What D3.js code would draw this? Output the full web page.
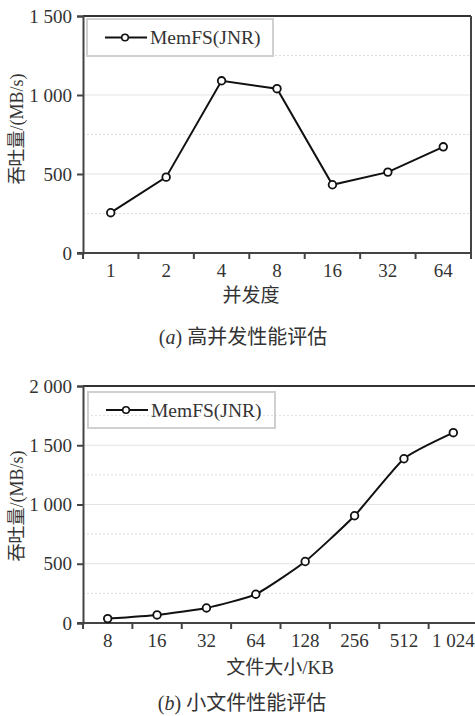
<!DOCTYPE html>
<html>
<head>
<meta charset="utf-8">
<script src="https://cdn.jsdelivr.net/npm/d3@7"></script>
<style>
  html, body { margin: 0; padding: 0; background: #fff; }
  svg { display: block; }
  text { font-family: "Liberation Serif", "Times New Roman", "Noto Sans CJK SC", serif; fill: #333; }
</style>
</head>
<body>
<svg id="chart" width="475" height="716"></svg>
<script>
// ---- data ----
const seriesName = "MemFS(JNR)";
const yLabel = "吞吐量/(MB/s)";

const catsA = ["1", "2", "4", "8", "16", "32", "64"];
const valsA = [255, 480, 1090, 1040, 432, 512, 672];
const yTicksA = [0, 500, 1000, 1500];
const yTickLabelsA = ["0", "500", "1 000", "1 500"];
const yMinorA = [250, 750, 1250];
const xLabelA = "并发度";
const captionLetterA = "a";
const captionTextA = "高并发性能评估";

const catsB = ["8", "16", "32", "64", "128", "256", "512", "1 024"];
const valsB = [37, 68, 127, 243, 519, 905, 1386, 1606];
const yTicksB = [0, 500, 1000, 1500, 2000];
const yTickLabelsB = ["0", "500", "1 000", "1 500", "2 000"];
const yMinorB = [250, 750, 1250, 1750];
const xLabelB = "文件大小/KB";
const captionLetterB = "b";
const captionTextB = "小文件性能评估";

const FONT = '"Liberation Serif", "Times New Roman", "Noto Sans CJK SC", serif';
const svg = d3.select("#chart");

function panel(cfg) {
  const g = svg.append("g");
  const x = d3.scaleBand().domain(cfg.cats).range([cfg.left, cfg.right]).padding(0);
  const y = d3.scaleLinear().domain([0, cfg.yMax]).range([cfg.bottom, cfg.top]);

  g.selectAll(".minor").data(cfg.minor).join("line")
    .attr("x1", cfg.left).attr("x2", cfg.right)
    .attr("y1", d => y(d)).attr("y2", d => y(d))
    .attr("stroke", "#ddd").attr("stroke-width", 1).attr("stroke-dasharray", "2,2");
  g.selectAll(".major").data(cfg.yTicks.filter(d => d > 0 && d < cfg.yMax)).join("line")
    .attr("x1", cfg.left).attr("x2", cfg.right)
    .attr("y1", d => y(d)).attr("y2", d => y(d))
    .attr("stroke", "#e3e3e3").attr("stroke-width", 1.2);

  g.append("line").attr("x1", cfg.left).attr("x2", cfg.right)
    .attr("y1", y(cfg.yMax)).attr("y2", y(cfg.yMax))
    .attr("stroke", "#333").attr("stroke-width", 2);
  g.append("line").attr("x1", cfg.right).attr("x2", cfg.right)
    .attr("y1", cfg.top).attr("y2", cfg.bottom + 6)
    .attr("stroke", "#444").attr("stroke-width", 2);

  const yAxis = d3.axisLeft(y).tickValues(cfg.yTicks)
    .tickFormat((d, i) => cfg.yTickLabels[i]).tickSize(6).tickPadding(5);
  const ya = g.append("g").attr("transform", `translate(${cfg.left},0)`).call(yAxis)
    .attr("font-family", null);
  ya.select(".domain").attr("stroke", "#444").attr("stroke-width", 2);
  ya.selectAll(".tick line").attr("stroke", "#444").attr("stroke-width", 2);
  ya.selectAll(".tick text").attr("font-size", 19).attr("fill", "#333")
    .style("font-family", FONT);

  const xa = g.append("g").attr("transform", `translate(0,${cfg.bottom})`);
  xa.append("line").attr("x1", cfg.left - 6).attr("x2", cfg.right)
    .attr("stroke", "#444").attr("stroke-width", 2);
  const bounds = cfg.cats.map(c => x(c)).concat([x(cfg.cats[cfg.cats.length - 1]) + x.bandwidth()]);
  xa.selectAll(".xt").data(bounds).join("line")
    .attr("x1", d => d).attr("x2", d => d).attr("y1", 0).attr("y2", 6)
    .attr("stroke", "#444").attr("stroke-width", 2);
  xa.selectAll(".xl").data(cfg.cats).join("text")
    .attr("x", d => x(d) + x.bandwidth() / 2).attr("y", 24)
    .attr("text-anchor", "middle").attr("font-size", 19)
    .style("font-family", FONT)
    .text(d => d);

  const line = d3.line()
    .x((d, i) => x(cfg.cats[i]) + x.bandwidth() / 2)
    .y(d => y(d))
    .curve(cfg.smooth ? d3.curveCardinal.tension(0.5) : d3.curveLinear);
  g.append("path").datum(cfg.vals).attr("d", line)
    .attr("fill", "none").attr("stroke", "#111").attr("stroke-width", 2);
  g.selectAll(".pt").data(cfg.vals).join("circle")
    .attr("cx", (d, i) => x(cfg.cats[i]) + x.bandwidth() / 2)
    .attr("cy", d => y(d)).attr("r", 3.8)
    .attr("fill", "#fff").attr("stroke", "#111").attr("stroke-width", 1.8);

  const L = cfg.legend;
  g.append("rect").attr("x", L.x).attr("y", L.y).attr("width", L.w).attr("height", L.h)
    .attr("fill", "none").attr("stroke", "#d0d0d0").attr("stroke-width", 2);
  const ly = L.y + L.h / 2;
  g.append("line").attr("x1", L.x + 18).attr("x2", L.x + 60).attr("y1", ly).attr("y2", ly)
    .attr("stroke", "#111").attr("stroke-width", 2);
  g.append("circle").attr("cx", L.x + 38).attr("cy", ly).attr("r", 3.3)
    .attr("fill", "#fff").attr("stroke", "#111").attr("stroke-width", 1.6);
  g.append("text").attr("x", L.x + 63).attr("y", ly + 6.5).attr("font-size", 19.5)
    .style("font-family", FONT).text(seriesName);

  g.append("text")
    .attr("transform", `translate(${cfg.yLabelX},${cfg.yLabelY}) rotate(-90)`)
    .attr("text-anchor", "middle").attr("font-size", 18).attr("fill", "#444")
    .style("font-family", FONT)
    .text(yLabel);

  g.append("text").attr("x", cfg.xLabelX).attr("y", cfg.xLabelY)
    .attr("text-anchor", "middle").attr("font-size", 19).attr("fill", "#444")
    .style("font-family", FONT)
    .text(cfg.xLabel);

  const cap = g.append("text").attr("x", cfg.capX).attr("y", cfg.capY)
    .attr("text-anchor", "middle").attr("font-size", 20).attr("fill", "#333")
    .style("font-family", FONT);
  cap.append("tspan").text("(");
  cap.append("tspan").attr("font-style", "italic").text(cfg.capLetter);
  cap.append("tspan").text(") ");
  cap.append("tspan").text(cfg.capText);
}

panel({
  cats: catsA, vals: valsA, yMax: 1500, yTicks: yTicksA, yTickLabels: yTickLabelsA, minor: yMinorA,
  left: 83, right: 471, top: 16, bottom: 253, smooth: false,
  legend: { x: 87, y: 19, w: 186, h: 37 },
  yLabelX: 23, yLabelY: 129,
  xLabel: xLabelA, xLabelX: 251, xLabelY: 302,
  capLetter: captionLetterA, capText: captionTextA, capX: 243, capY: 344
});

panel({
  cats: catsB, vals: valsB, yMax: 2000, yTicks: yTicksB, yTickLabels: yTickLabelsB, minor: yMinorB,
  left: 83, right: 478, top: 386, bottom: 623, smooth: true,
  legend: { x: 88, y: 392, w: 187, h: 36 },
  yLabelX: 23, yLabelY: 506,
  xLabel: xLabelB, xLabelX: 280, xLabelY: 674,
  capLetter: captionLetterB, capText: captionTextB, capX: 242, capY: 710
});
</script>
</body>
</html>
